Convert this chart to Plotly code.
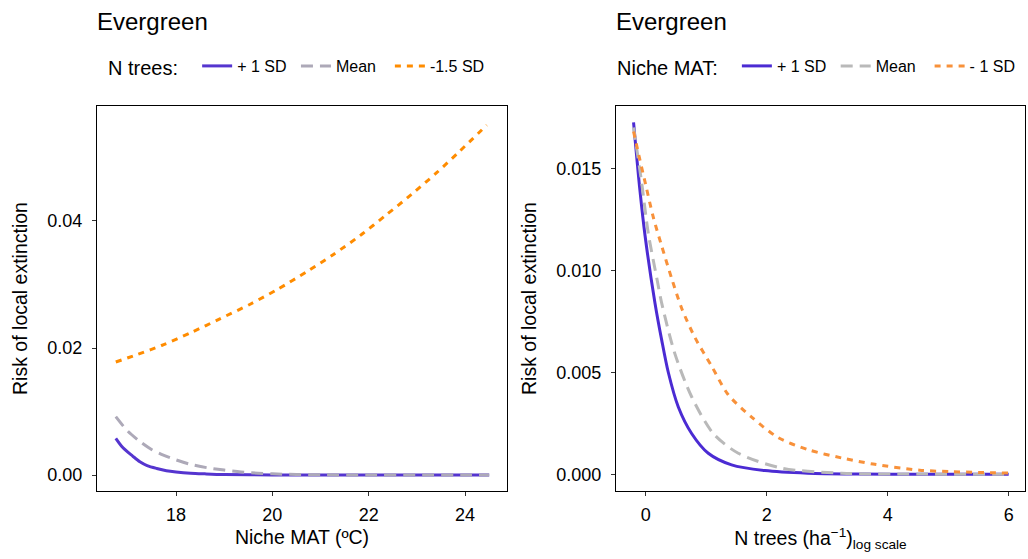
import plotly.graph_objects as go

# ---------- Left panel: risk vs Niche MAT ----------
mat_plus1_x = [16.75, 16.9, 17.1, 17.25, 17.4, 17.6, 17.8, 18.0, 18.3, 18.6, 19.0, 20.0, 21.0, 22.0, 23.0, 24.0, 24.5]
mat_plus1_y = [0.0058, 0.0043, 0.0030, 0.0021, 0.0015, 0.00105, 0.0007, 0.0005, 0.0003, 0.0002, 0.0001, 0.00003, 0.00001, 0.0, 0.0, 0.0, 0.0]

mat_mean_x = [16.75, 17.0, 17.25, 17.5, 17.75, 18.0, 18.3, 18.65, 19.0, 19.35, 19.7, 20.0, 20.5, 21.0, 22.0, 23.0, 24.0, 24.5]
mat_mean_y = [0.0092, 0.0069, 0.0053, 0.0040, 0.0031, 0.0024, 0.0017, 0.00116, 0.0008, 0.0005, 0.0003, 0.0002, 0.0001, 0.00005, 0.00001, 0.0, 0.0, 0.0]

mat_minus_x = [16.75, 17.2, 17.7, 18.33, 18.91, 19.54, 20.12, 20.71, 21.26, 21.82, 22.37, 22.89, 23.41, 23.89, 24.45]
mat_minus_y = [0.0178, 0.0190, 0.0204, 0.0225, 0.0246, 0.0269, 0.0293, 0.0320, 0.0347, 0.0377, 0.0410, 0.0442, 0.0476, 0.0510, 0.0551]

# ---------- Right panel: risk vs N trees (log scale) ----------
nt_plus1_x = [-0.2, -0.094, -0.01, 0.154, 0.264, 0.374, 0.54, 0.76, 1.035, 1.42, 1.97, 2.68, 3.5, 4.5, 6.0]
nt_plus1_y = [0.01725, 0.0139, 0.0117, 0.0084, 0.0066, 0.0050, 0.0033, 0.0020, 0.00103, 0.00046, 0.00018, 0.00005, 0.00001, 0.0, 0.0]

nt_mean_x = [-0.2, -0.066, 0.044, 0.192, 0.264, 0.484, 0.76, 1.117, 1.531, 2.248, 3.24, 4.5, 6.0]
nt_mean_y = [0.0170, 0.0143, 0.0118, 0.0095, 0.0084, 0.0059, 0.0038, 0.0020, 0.00103, 0.0003, 0.00005, 0.00001, 0.0]

nt_minus_x = [-0.2, -0.094, 0.0, 0.126, 0.264, 0.43, 0.6, 0.815, 1.09, 1.365, 1.752, 2.19, 2.69, 3.24, 3.76, 4.53, 5.03, 5.5, 6.0]
nt_minus_y = [0.0168, 0.0154, 0.0142, 0.0126, 0.0112, 0.0096, 0.0081, 0.0067, 0.0053, 0.0039, 0.0028, 0.0018, 0.0012, 0.0008, 0.0005, 0.0002, 0.00013, 0.00009, 0.00006]

left_names = ["+ 1 SD", "Mean", "-1.5 SD"]
right_names = ["+ 1 SD", "Mean", "- 1 SD"]
left_legend_title = "N trees:"
right_legend_title = "Niche MAT:"
panel_title = "Evergreen"

FONT = "Liberation Sans, Arial, sans-serif"
W, H = 1028, 559
NB = "\u00a0"
pads = [NB, NB * 2, ""]

fig = go.Figure()

def add(x, y, name, color, dash, xa, ya, leg):
    fig.add_trace(go.Scatter(x=x, y=y, mode="lines", name=name,
                             line=dict(color=color, width=3, dash=dash, shape="spline", smoothing=0.8),
                             xaxis=xa, yaxis=ya, legend=leg))

add(mat_plus1_x, mat_plus1_y, left_names[0] + pads[0], "#5535CF", "solid", "x", "y", "legend")
add(mat_mean_x, mat_mean_y, left_names[1] + pads[1], "#ADA9B8", "12px,7px", "x", "y", "legend")
add(mat_minus_x, mat_minus_y, left_names[2] + pads[2], "#FF8C00", "6px,6px", "x", "y", "legend")

add(nt_plus1_x, nt_plus1_y, right_names[0] + pads[0], "#4B2BD3", "solid", "x2", "y2", "legend2")
add(nt_mean_x, nt_mean_y, right_names[1] + pads[1], "#B9B9B9", "12px,7px", "x2", "y2", "legend2")
add(nt_minus_x, nt_minus_y, right_names[2] + pads[2], "#F8913A", "6px,6px", "x2", "y2", "legend2")

ybot = 1 - 491 / H
ytop = 1 - 106 / H

axis_common = dict(showline=True, mirror=True, linecolor="black", linewidth=1.2,
                   ticks="outside", ticklen=4, tickcolor="#333333", showgrid=False, zeroline=False,
                   tickfont=dict(size=18, color="black", family=FONT),
                   title_font=dict(size=19.5, color="black", family=FONT))

fig.update_layout(
    width=W, height=H,
    margin=dict(l=0, r=0, t=0, b=0),
    plot_bgcolor="white", paper_bgcolor="white",
    font=dict(family=FONT, color="black"),
    xaxis=dict(domain=[97 / W, 507 / W], range=[16.36, 24.87], tickvals=[18, 20, 22, 24],
               ticklabelstandoff=3,
               title=dict(text="Niche MAT (ºC)", standoff=6), anchor="y", **axis_common),
    yaxis=dict(domain=[ybot, ytop], range=[-0.0025, 0.0581], tickvals=[0, 0.02, 0.04], tickformat=".2f",
               ticklabelstandoff=6,
               title=dict(text="Risk of local extinction", standoff=14), anchor="x", **axis_common),
    xaxis2=dict(domain=[616 / W, 1025 / W], range=[-0.49, 6.27], tickvals=[0, 2, 4, 6],
                ticklabelstandoff=3,
                title=dict(text="N trees (ha<sup>−1</sup>)<sub>log scale</sub>", standoff=4), anchor="y2", **axis_common),
    yaxis2=dict(domain=[ybot, ytop], range=[-0.00082, 0.01805], tickvals=[0, 0.005, 0.010, 0.015], tickformat=".3f",
                ticklabelstandoff=6,
                title=dict(text="Risk of local extinction", standoff=14), anchor="x2", **axis_common),
    legend=dict(orientation="h", x=106 / W, y=1 - 67 / H, xanchor="left", yanchor="middle",
                title=dict(text=left_legend_title + NB * 2, side="left", font=dict(size=20, family=FONT)),
                font=dict(size=16, family=FONT), itemwidth=30, bgcolor="rgba(0,0,0,0)"),
    legend2=dict(orientation="h", x=615 / W, y=1 - 67 / H, xanchor="left", yanchor="middle",
                 title=dict(text=right_legend_title + NB * 2, side="left", font=dict(size=20, family=FONT)),
                 font=dict(size=16, family=FONT), itemwidth=30, bgcolor="rgba(0,0,0,0)"),
    annotations=[
        dict(text=panel_title, x=95 / W, y=1 - 21 / H, xref="paper", yref="paper", xanchor="left",
             yanchor="middle", showarrow=False, font=dict(size=24, family=FONT, color="black")),
        dict(text=panel_title, x=614 / W, y=1 - 21 / H, xref="paper", yref="paper", xanchor="left",
             yanchor="middle", showarrow=False, font=dict(size=24, family=FONT, color="black")),
    ],
)

fig.write_html("out.html", config={"displayModeBar": False},
               post_script="document.body.style.margin='0';document.body.style.overflow='hidden';")
